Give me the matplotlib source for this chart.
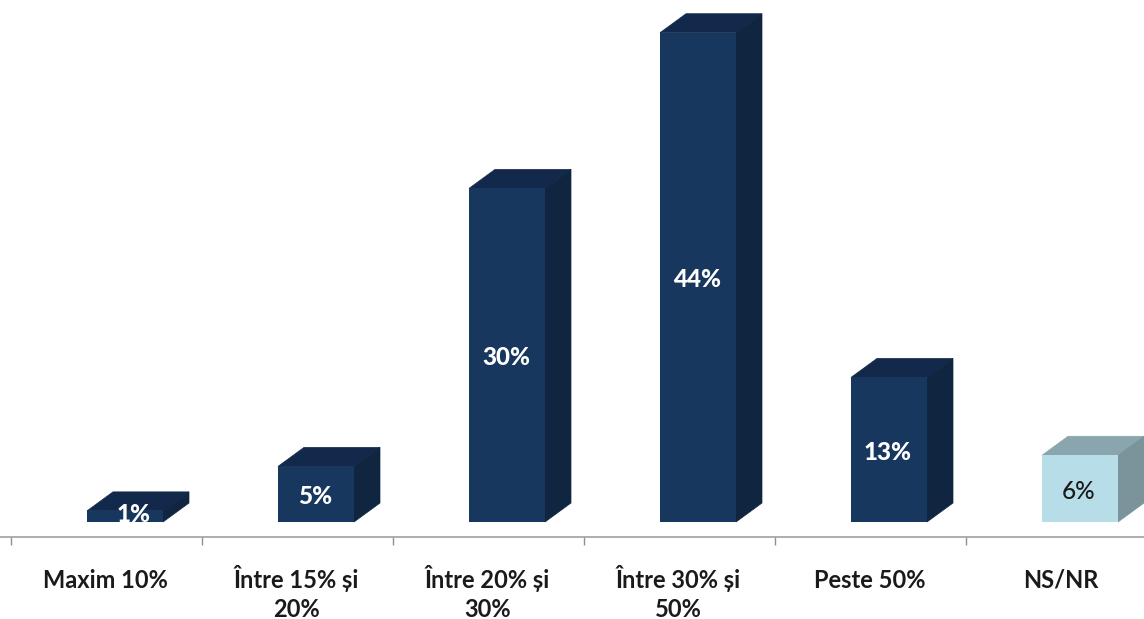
import matplotlib
matplotlib.use("Agg")
import matplotlib.pyplot as plt
from matplotlib.patches import Polygon

plt.rcParams['font.family'] = ['Lato', 'DejaVu Sans']

categories = ['Maxim 10%', 'Între 15% și\n20%', 'Între 20% și\n30%', 'Între 30% și\n50%', 'Peste 50%', 'NS/NR']
values = [1, 5, 30, 44, 13, 6]
value_labels = ['1%', '5%', '30%', '44%', '13%', '6%']

# pixel layout of the picture
W, H = 1144, 619
cat_px = 191.0
first_center_px = 106.5
base_px = 522
px_per_pct = 11.12

fig = plt.figure(figsize=(W / 100, H / 100), dpi=100)
ax = fig.add_axes([0, 0, 1, 1])
ax.set_xlim(-first_center_px / cat_px, (W - first_center_px) / cat_px)
ax.set_ylim(-(H - base_px) / px_per_pct, base_px / px_per_pct)

# bar sizes in data units
bar_w = 76 / cat_px
shift = 18.5 / cat_px
dx = 26 / cat_px
dy = 19 / px_per_pct
label_drop = 2.5 / px_per_pct

for i, v in enumerate(values):
    if categories[i] == 'NS/NR':
        front, top, side, txt = '#B7DDE8', '#89A6AE', '#7B949C', '#1a1a1a'
    else:
        front, top, side, txt = '#17375E', '#13294B', '#10253F', 'white'
    left = i - bar_w / 2 + shift
    right = left + bar_w
    ax.bar(left, v, width=bar_w, align='edge', color=front, linewidth=0, zorder=3)
    ax.add_patch(Polygon([(left, v), (right, v), (right + dx, v + dy), (left + dx, v + dy)],
                         facecolor=top, edgecolor=top, linewidth=0.5, zorder=2))
    ax.add_patch(Polygon([(right, 0), (right + dx, dy), (right + dx, v + dy), (right, v)],
                         facecolor=side, edgecolor=side, linewidth=0.5, zorder=2))
    # the 1% label sits over the top face in the original
    if v == 1:
        ax.text(left + bar_w / 2 + 9 / cat_px, v / 2 + 0.2, value_labels[i], color=txt, fontsize=17.5,
                fontweight=900, ha='center', va='center', zorder=4)
    else:
        ax.text(left + bar_w / 2 - 1 / cat_px, v / 2 - label_drop, value_labels[i], color=txt, fontsize=17.5,
                fontweight=900 if txt == 'white' else 'medium', ha='center', va='center', zorder=4)

# axis line below the bars, ticks between categories
for s in ['top', 'left', 'right']:
    ax.spines[s].set_visible(False)
ax.spines['bottom'].set_position(('data', -15 / px_per_pct))
ax.spines['bottom'].set_color('#A0A0A0')
ax.spines['bottom'].set_linewidth(1.2)
ax.set_yticks([])
ax.set_xticks([i - 0.5 for i in range(len(categories))])
ax.set_xticklabels([])
ax.tick_params(axis='x', which='major', length=6, width=1, color='#909090')

# category labels, va=baseline goes by the last line so push two-liners down
for i, name in enumerate(categories):
    drop = 66 + 29 * name.count('\n')
    ax.text(i - 1 / cat_px, -drop / px_per_pct, name, fontsize=17, fontweight='bold', color='#1a1a1a',
            ha='center', va='baseline', linespacing=1.33)

fig.savefig('out.png', dpi=100, facecolor='white')
